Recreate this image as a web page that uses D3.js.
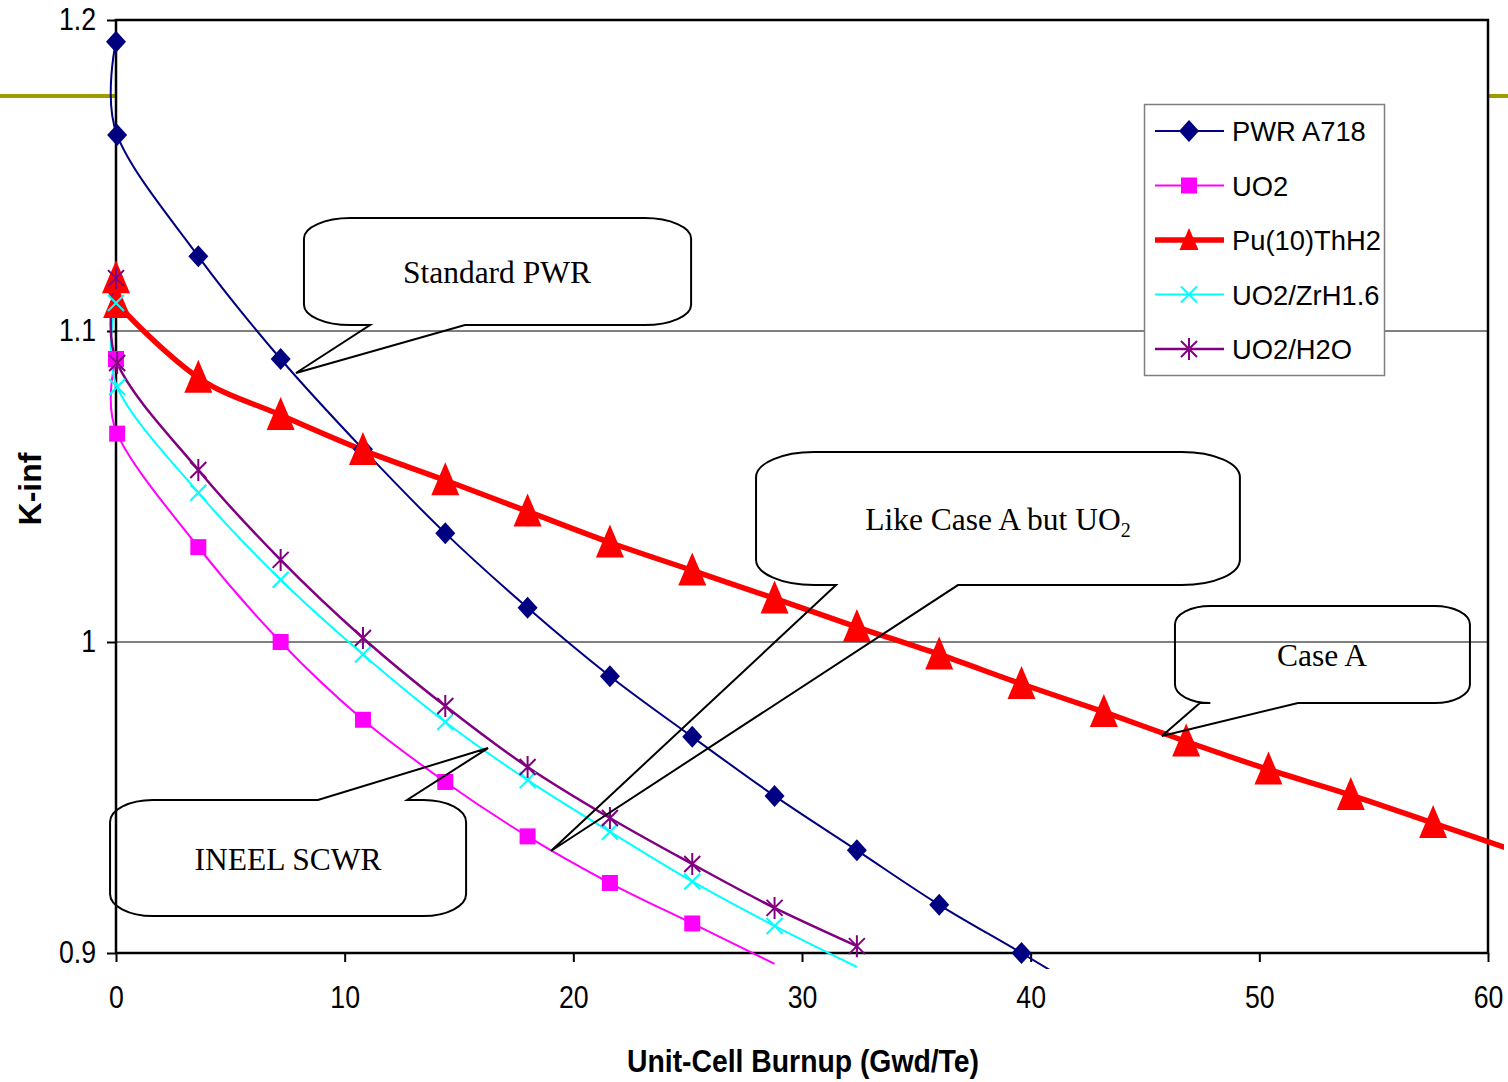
<!DOCTYPE html>
<html>
<head>
<meta charset="utf-8">
<script src="https://cdn.jsdelivr.net/npm/d3@7"></script>
<style>
    html, body { margin: 0; padding: 0; background: #fff; }
    #chart { display: block; }
</style>
</head>
<body>
<svg id="chart" width="1508" height="1082"></svg>
<script>
// burnup steps (Gwd/Te); the second point is the near-zero (equilibrium Xe) step
const burnup = [0, 0.05, 3.6, 7.2, 10.8, 14.4, 18, 21.6, 25.2, 28.8, 32.4, 36, 39.6, 43.2, 46.8, 50.4, 54, 57.6, 61.2];

const pwrA718 = [1.193, 1.163, 1.124, 1.091, 1.062, 1.035, 1.011, 0.989, 0.9695, 0.9505, 0.933, 0.9155, 0.900, 0.884];
const uo2 = [1.091, 1.067, 1.0305, 1.000, 0.975, 0.955, 0.9375, 0.9225, 0.9095, 0.8965];
const puThH2 = [1.117, 1.109, 1.085, 1.073, 1.0617, 1.052, 1.042, 1.032, 1.023, 1.014, 1.0048, 0.996, 0.9865, 0.9775, 0.968, 0.959, 0.9508, 0.9418, 0.9328];
const uo2ZrH = [1.109, 1.082, 1.048, 1.020, 0.996, 0.9743, 0.9556, 0.939, 0.923, 0.9087, 0.8955];
const uo2H2O = [1.117, 1.0897, 1.0553, 1.0264, 1.0013, 0.9794, 0.9598, 0.9434, 0.9286, 0.9145, 0.9022];

const seriesNames = ["PWR A718", "UO2", "Pu(10)ThH2", "UO2/ZrH1.6", "UO2/H2O"];
const xTicks = [0, 10, 20, 30, 40, 50, 60];
const yTicks = [0.9, 1.0, 1.1, 1.2];
const gridValues = [1.0, 1.1];

// callouts in data coordinates: box corners, pointer tip, pointer base
const callouts = [
    { text: "Standard PWR", box: [8.22, 1.1363, 25.15, 1.1019], tip: [7.87, 1.0865], base: [11.11, 15.26], side: "bottom", label: [16.66, 1.1187] },
    { text: "Like Case A but UO", sub: "2", box: [27.99, 1.0611, 49.15, 1.0183], tip: [19.02, 0.9328], base: [31.49, 36.82], side: "bottom", label: [38.57, 1.0392] },
    { text: "Case A", box: [46.31, 1.0116, 59.21, 0.9804], tip: [45.74, 0.9698], base: [47.4, 51.69], side: "bottom", label: [52.74, 0.9955] },
    { text: "INEEL SCWR", box: [-0.26, 0.9492, 15.31, 0.9119], tip: [16.27, 0.9659], base: [8.83, 12.73], side: "top", label: [7.52, 0.9299] }
];

document.addEventListener("DOMContentLoaded", function() {
    const svg = d3.select("#chart");
    const W = 1508, H = 1082;
    const margin = { top: 20, right: 20, bottom: 129, left: 116 };
    const width = W - margin.left - margin.right;
    const height = H - margin.top - margin.bottom;

    const x = d3.scaleLinear().domain([0, 60]).range([margin.left, margin.left + width]);
    const y = d3.scaleLinear().domain([0.9, 1.2]).range([margin.top + height, margin.top]);

    const styles = [
        { color: "#000080", lw: 2, marker: "diamond" },
        { color: "#FF00FF", lw: 2, marker: "square" },
        { color: "#FF0000", lw: 5.5, marker: "triangle" },
        { color: "#00FFFF", lw: 2, marker: "x" },
        { color: "#800080", lw: 2.5, marker: "star" }
    ];
    const allValues = [pwrA718, uo2, puThH2, uo2ZrH, uo2H2O];
    const series = allValues.map((vals, i) => ({
        name: seriesNames[i],
        style: styles[i],
        points: vals.map((v, j) => [burnup[j], v])
    }));

    function markerPath(type, big) {
        switch (type) {
            case "diamond": return "M0,-11L10,0L0,11L-10,0Z";
            case "square": return "M-8,-8H8V8H-8Z";
            case "triangle": return big ? "M0,-18L14,15H-14Z" : "M0,-12L9.5,10H-9.5Z";
            case "x": return "M-8,-8L8,8M-8,8L8,-8";
            case "star": return "M-8,-8L8,8M-8,8L8,-8M0,-11V11";
        }
    }
    function drawMarker(g, type, color, cx, cy, big) {
        const filled = type === "diamond" || type === "square" || type === "triangle";
        g.append("path")
            .attr("d", markerPath(type, big))
            .attr("transform", `translate(${cx},${cy})`)
            .attr("fill", filled ? color : "none")
            .attr("stroke", filled ? "none" : color)
            .attr("stroke-width", 2);
    }
    // squeeze text horizontally to mimic a narrow face
    function narrow(sel, factor) {
        sel.each(function() {
            const len = this.getComputedTextLength();
            d3.select(this).attr("textLength", len * factor).attr("lengthAdjust", "spacingAndGlyphs");
        });
    }

    // slide decoration line behind the chart
    svg.append("line")
        .attr("x1", 0).attr("x2", W).attr("y1", 96).attr("y2", 96)
        .attr("stroke", "#9c9c00").attr("stroke-width", 4);

    svg.append("rect")
        .attr("x", margin.left).attr("y", margin.top)
        .attr("width", width).attr("height", height)
        .attr("fill", "#fff");

    // gridlines
    svg.append("g").selectAll("line")
        .data(gridValues)
        .enter().append("line")
        .attr("x1", margin.left).attr("x2", margin.left + width)
        .attr("y1", d => y(d)).attr("y2", d => y(d))
        .attr("stroke", "#000").attr("stroke-width", 1);

    // axes
    const yAxis = d3.axisLeft(y).tickValues(yTicks).tickSize(9).tickPadding(11)
        .tickFormat(d => String(+d.toFixed(1)));
    const gy = svg.append("g")
        .attr("transform", `translate(${margin.left},0)`)
        .call(yAxis);
    const xAxis = d3.axisBottom(x).tickValues(xTicks).tickSize(9).tickPadding(24);
    const gx = svg.append("g")
        .attr("transform", `translate(0,${margin.top + height})`)
        .call(xAxis);
    [gx, gy].forEach(g => {
        g.select(".domain").remove();
        g.selectAll(".tick line").attr("stroke", "#000").attr("stroke-width", 2);
        g.selectAll(".tick text")
            .attr("fill", "#000")
            .style("font-family", "'Liberation Sans', Arial, sans-serif")
            .style("font-size", "31px")
            .call(narrow, 0.86);
    });

    // plot border
    svg.append("rect")
        .attr("x", margin.left).attr("y", margin.top)
        .attr("width", width).attr("height", height)
        .attr("fill", "none").attr("stroke", "#000").attr("stroke-width", 2.5);

    // series lines (Excel-style smoothed)
    svg.append("clipPath").attr("id", "clip")
        .append("rect")
        .attr("x", margin.left - 16).attr("y", 0)
        .attr("width", 1504 - margin.left + 16).attr("height", y(0.9) + 16);

    const line = d3.line()
        .x(d => x(d[0]))
        .y(d => y(d[1]))
        .curve(d3.curveCardinal.tension(0));

    svg.append("g").attr("clip-path", "url(#clip)")
        .selectAll("path")
        .data(series)
        .enter().append("path")
        .attr("d", d => line(d.points))
        .attr("fill", "none")
        .attr("stroke", d => d.style.color)
        .attr("stroke-width", d => d.style.lw)
        .attr("stroke-linejoin", "round");

    const markers = svg.append("g");
    series.forEach(s => {
        s.points.forEach(p => {
            if (y(p[1]) > y(0.9) + 2 || p[0] > 60) return;
            drawMarker(markers, s.style.marker, s.style.color, x(p[0]), y(p[1]), true);
        });
    });

    // legend
    const legend = svg.append("g");
    legend.append("rect")
        .attr("x", 1144.5).attr("y", 104.5).attr("width", 240).attr("height", 271)
        .attr("fill", "#fff").attr("stroke", "#808080").attr("stroke-width", 1.5);
    series.forEach((s, i) => {
        const ly = 131 + i * 54.5;
        legend.append("line")
            .attr("x1", 1155).attr("x2", 1224).attr("y1", ly).attr("y2", ly)
            .attr("stroke", s.style.color).attr("stroke-width", s.style.lw);
        drawMarker(legend, s.style.marker, s.style.color, 1189, ly, false);
        legend.append("text")
            .attr("x", 1232).attr("y", ly + 10)
            .style("font-family", "'Liberation Sans', Arial, sans-serif")
            .style("font-size", "28.5px")
            .text(s.name)
            .call(narrow, 0.96);
    });

    // callouts
    const cg = svg.append("g");
    callouts.forEach(c => {
        const x0 = x(c.box[0]), y0 = y(c.box[1]), x1 = x(c.box[2]), y1 = y(c.box[3]);
        const rx = 0.12 * (x1 - x0), ry = 0.19 * (y1 - y0);
        const tx = x(c.tip[0]), ty = y(c.tip[1]);
        const b0 = x(c.base[0]), b1 = x(c.base[1]);
        let p = `M${x0 + rx},${y0}`;
        if (c.side === "top") p += `H${b0}L${tx},${ty}L${b1},${y0}`;
        p += `H${x1 - rx}A${rx},${ry} 0 0 1 ${x1},${y0 + ry}V${y1 - ry}A${rx},${ry} 0 0 1 ${x1 - rx},${y1}`;
        if (c.side === "bottom") p += `H${b1}L${tx},${ty}L${b0},${y1}`;
        p += `H${x0 + rx}A${rx},${ry} 0 0 1 ${x0},${y1 - ry}V${y0 + ry}A${rx},${ry} 0 0 1 ${x0 + rx},${y0}Z`;
        cg.append("path").attr("d", p)
            .attr("fill", "none").attr("stroke", "#000").attr("stroke-width", 2);
        const t = cg.append("text")
            .attr("x", x(c.label[0])).attr("y", y(c.label[1]) + 10)
            .attr("text-anchor", "middle")
            .style("font-family", "'Liberation Serif', 'Times New Roman', serif")
            .style("font-size", "31.5px")
            .text(c.text);
        if (c.sub) {
            t.append("tspan").attr("dy", 7).style("font-size", "20px").text(c.sub);
        }
    });

    // axis titles
    svg.append("text")
        .attr("x", 803).attr("y", 1072)
        .attr("text-anchor", "middle")
        .style("font-family", "'Liberation Sans', Arial, sans-serif")
        .style("font-weight", "bold")
        .style("font-size", "32px")
        .text("Unit-Cell Burnup (Gwd/Te)")
        .attr("textLength", 352)
        .attr("lengthAdjust", "spacingAndGlyphs");
    svg.append("text")
        .attr("transform", "translate(41,489) rotate(-90)")
        .attr("text-anchor", "middle")
        .style("font-family", "'Liberation Sans', Arial, sans-serif")
        .style("font-weight", "bold")
        .style("font-size", "32px")
        .text("K-inf");
});
</script>
</body>
</html>
